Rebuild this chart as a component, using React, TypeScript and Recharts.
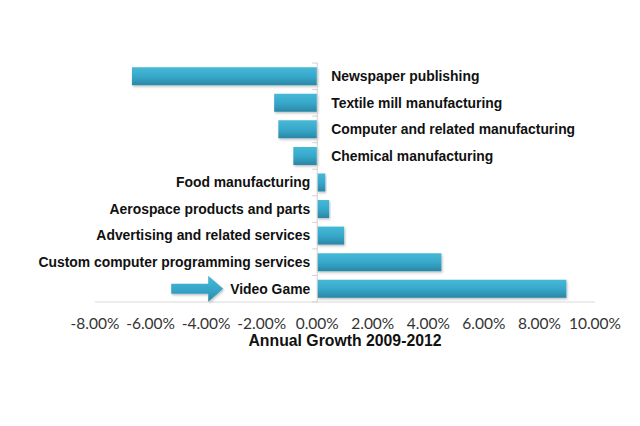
import { BarChart, Bar, XAxis, YAxis, ReferenceLine, LabelList } from 'recharts';

const industries = [
  'Newspaper publishing',
  'Textile mill manufacturing',
  'Computer and related manufacturing',
  'Chemical manufacturing',
  'Food manufacturing',
  'Aerospace products and parts',
  'Advertising and related services',
  'Custom computer programming services',
  'Video Game',
];

const growth = [-0.0667, -0.0155, -0.014, -0.0086, 0.0029, 0.0043, 0.0097, 0.0447, 0.0897];

const xTicks = [-0.08, -0.06, -0.04, -0.02, 0, 0.02, 0.04, 0.06, 0.08, 0.1];

const data = industries.map((name, i) => ({ name, growth: growth[i] }));

const GAP = 0.16;

function IndustryLabel(props: any) {
  const { x, y, width, height, value, index } = props;
  const v = growth[index];
  const zero = v >= 0 ? Math.min(x, x + width) : Math.max(x, x + width);
  const cy = y + height / 2;
  const band = height / (1 - 2 * GAP);
  const top = cy - band / 2;
  const isLast = index === industries.length - 1;
  return (
    <g>
      <line x1={zero - 5} x2={zero} y1={top} y2={top} stroke="#d0d0d0" />
      {isLast && <line x1={zero - 5} x2={zero} y1={top + band} y2={top + band} stroke="#d0d0d0" />}
      <text
        x={v >= 0 ? zero - 7 : zero + 14}
        y={cy}
        dy="0.35em"
        textAnchor={v >= 0 ? 'end' : 'start'}
        fontFamily="'Liberation Sans', Arial, sans-serif"
        fontWeight="bold"
        fontSize={13.9}
        fill="#111"
      >
        {value}
      </text>
      {isLast && (
        <path
          d={`M${zero - 146} ${cy - 5} L${zero - 109} ${cy - 5} L${zero - 109} ${cy - 13} L${zero - 94} ${cy} L${zero - 109} ${cy + 13} L${zero - 109} ${cy + 5} L${zero - 146} ${cy + 5} Z`}
          fill="url(#barFill)"
          filter="url(#shadow)"
        />
      )}
    </g>
  );
}

export default function App() {
  return (
    <div style={{ position: 'absolute', left: 0, top: 0, width: 640, height: 426, background: '#fff' }}>
      <BarChart
        width={640}
        height={426}
        data={data}
        layout="vertical"
        barCategoryGap="16%"
        margin={{ top: 63, right: 45, left: 95, bottom: 94 }}
      >
        <defs>
          <linearGradient id="barFill" x1="0" y1="0" x2="0" y2="1">
            <stop offset="0%" stopColor="#46B9D8" />
            <stop offset="55%" stopColor="#36A6C8" />
            <stop offset="100%" stopColor="#2A86A5" />
          </linearGradient>
          <filter id="shadow" x="-10%" y="-20%" width="120%" height="160%">
            <feDropShadow dx="1" dy="1.5" stdDeviation="1" floodColor="#000" floodOpacity="0.25" />
          </filter>
        </defs>
        <XAxis
          type="number"
          domain={[-0.08, 0.1]}
          ticks={xTicks}
          tickFormatter={(v: number) => (v * 100).toFixed(2) + '%'}
          tickLine={false}
          tickMargin={10}
          height={30}
          axisLine={{ stroke: '#d9d9d9' }}
          tick={{ fill: '#333', fontSize: 15.5, fontFamily: 'Lato, sans-serif' }}
          interval={0}
        />
        <YAxis type="category" dataKey="name" hide />
        <ReferenceLine x={0} stroke="#d0d0d0" />
        <Bar dataKey="growth" fill="url(#barFill)" filter="url(#shadow)" isAnimationActive={false}>
          <LabelList dataKey="name" content={<IndustryLabel />} />
        </Bar>
      </BarChart>
      <div
        style={{
          position: 'absolute',
          top: 332,
          left: 195,
          width: 300,
          textAlign: 'center',
          fontFamily: "'Liberation Sans', Arial, sans-serif",
          fontWeight: 'bold',
          fontSize: 15.8,
          color: '#111',
        }}
      >
        Annual Growth 2009-2012
      </div>
    </div>
  );
}
